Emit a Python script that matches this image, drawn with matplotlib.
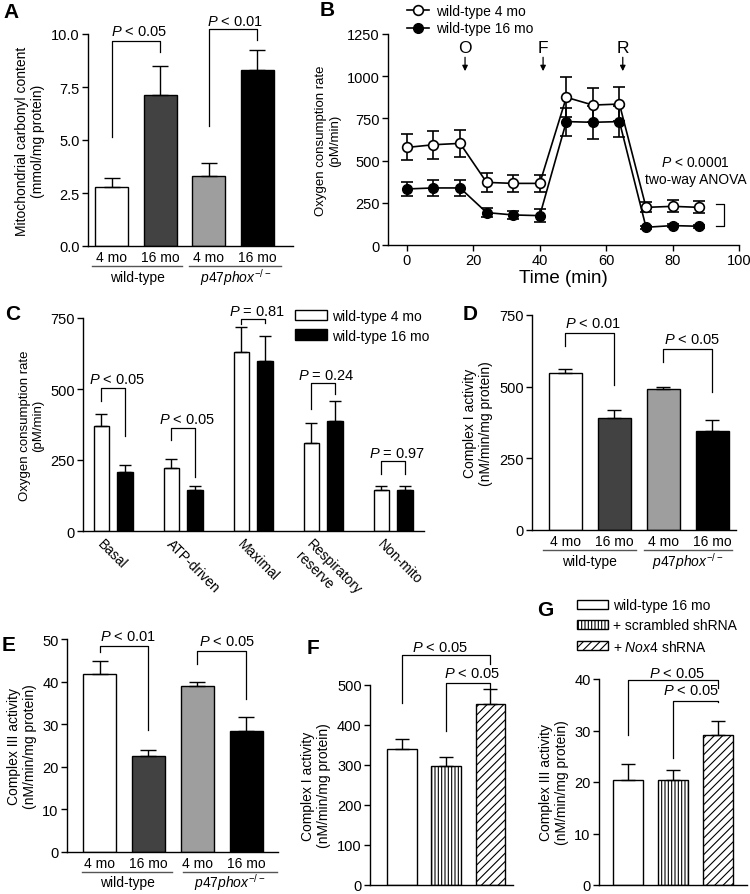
import numpy as np
import matplotlib
matplotlib.use("Agg")
import matplotlib.pyplot as plt
import matplotlib.transforms as mtransforms
from matplotlib.lines import Line2D
from matplotlib.patches import Patch

# ----------------------------
# Data
# ----------------------------

age_labels = ["4 mo", "16 mo", "4 mo", "16 mo"]
genotypes = ["wild-type", r"$\mathit{p47phox}^{-/-}$"]

# A: mitochondrial carbonyl content
carbonyl = [2.8, 7.1, 3.3, 8.3]
carbonyl_err = [0.4, 1.4, 0.6, 0.95]

# B: Seahorse trace
time_min = [0, 8, 16, 24, 32, 40, 48, 56, 64, 72, 80, 88]
ocr_4mo = [578, 594, 602, 371, 365, 365, 875, 829, 835, 223, 229, 223]
ocr_4mo_err = [77, 83, 80, 55, 50, 50, 118, 100, 100, 30, 35, 35]
ocr_16mo = [332, 338, 338, 192, 178, 174, 731, 727, 731, 105, 115, 111]
ocr_16mo_err = [43, 45, 50, 25, 25, 38, 83, 99, 93, 10, 10, 10]
injections = ["O", "F", "R"]
injection_times = [17.5, 41, 65]

# C: OCR parameters
ocr_params = ["Basal", "ATP-driven", "Maximal", "Respiratory\nreserve", "Non-mito"]
param_4mo = [369, 223, 629, 311, 145]
param_4mo_err = [43, 31, 91, 70, 15]
param_16mo = [207, 143, 598, 389, 143]
param_16mo_err = [24, 17, 88, 67, 15]
param_pvals = ["< 0.05", "< 0.05", "= 0.81", "= 0.24", "= 0.97"]

# D: complex I activity
complex1 = [547, 390, 493, 346]
complex1_err = [16, 28, 6, 38]

# E: complex III activity
complex3 = [41.8, 22.6, 38.9, 28.3]
complex3_err = [3.1, 1.3, 1.0, 3.4]

# F / G: shRNA treatment
shrna_labels = ["wild-type 16 mo", "+ scrambled shRNA", r"+ $\mathit{Nox4}$ shRNA"]
shrna_c1 = [339, 298, 452]
shrna_c1_err = [26, 23, 38]
shrna_c3 = [20.4, 20.4, 29.2]
shrna_c3_err = [3.0, 2.0, 2.6]

# ----------------------------
# Style
# ----------------------------

plt.rcParams["font.family"] = ["Liberation Sans", "DejaVu Sans"]
plt.rcParams["font.size"] = 9
plt.rcParams["mathtext.fontset"] = "custom"
plt.rcParams["mathtext.rm"] = "Liberation Sans"
plt.rcParams["mathtext.it"] = "Liberation Sans:italic"
plt.rcParams["mathtext.bf"] = "Liberation Sans:bold"
plt.rcParams["hatch.linewidth"] = 0.8
plt.rcParams["axes.linewidth"] = 1.0

W, H = 750, 895
fig = plt.figure(figsize=(W / 100, H / 100), dpi=100)

bar_colors = ["white", "#424242", "#9e9e9e", "black"]


def make_ax(left, top, right, bottom):
    ax = fig.add_axes([left / W, 1 - bottom / H, (right - left) / W, (bottom - top) / H])
    ax.spines["top"].set_visible(False)
    ax.spines["right"].set_visible(False)
    ax.tick_params(direction="out", length=4, width=1, labelsize=10.5, pad=2)
    return ax


def bracket(ax, x1, x2, y_left, y_top, y_right, text, tx, ty):
    ax.plot([x1, x1, x2, x2], [y_left, y_top, y_top, y_right],
            color="black", lw=0.9, clip_on=False)
    ax.text(tx, ty, r"$P$ " + text, ha="center", va="center", fontsize=10.5)


def group_labels(ax, h_px, spans, text_off=31):
    tr = ax.get_xaxis_transform()
    for (x0, x1), label in zip(spans, genotypes):
        ax.plot([x0, x1], [-20 / h_px, -20 / h_px], color="#555555", lw=1.0,
                transform=tr, clip_on=False)
        ax.text((x0 + x1) / 2, -text_off / h_px, label, transform=tr,
                ha="center", va="center", fontsize=10)


def panel_letter(x, y, s):
    fig.text(x / W, 1 - y / H, s, fontsize=15, fontweight="bold", va="top", ha="left")


def four_bars(ax, vals, errs, width, cap):
    x = np.arange(4)
    ax.bar(x, vals, width=width, color=bar_colors, edgecolor="black", linewidth=1)
    ax.errorbar(x, vals, yerr=[np.zeros(4), errs], fmt="none", ecolor="black",
                elinewidth=1, capsize=cap, capthick=1)
    ax.set_xticks(x, age_labels)
    ax.tick_params(axis="x", length=0, pad=3, labelsize=10)


# ----------------------------
# A
# ----------------------------

axA = make_ax(88, 35, 293, 247)
four_bars(axA, carbonyl, carbonyl_err, 0.68, 6)
axA.set_xlim(-0.485, 3.74)
axA.set_ylim(0, 10)
axA.set_yticks([0, 2.5, 5, 7.5, 10], ["0.0", "2.5", "5.0", "7.5", "10.0"])
axA.set_ylabel("Mitochondrial carbonyl content\n(mmol/mg protein)", fontsize=10)
group_labels(axA, 212, [(-0.4, 1.45), (1.6, 3.5)])
bracket(axA, 0, 1, 5.14, 9.68, 9.17, "< 0.05", 0.57, 10.15)
bracket(axA, 2, 3, 5.66, 10.24, 9.73, "< 0.01", 2.55, 10.62)
panel_letter(3, 3, "A")

# ----------------------------
# B
# ----------------------------

axB = make_ax(388, 35, 739, 246)
axB.errorbar(time_min, ocr_4mo, yerr=ocr_4mo_err, color="black", lw=1.2,
             marker="o", markersize=7, markerfacecolor="white", markeredgewidth=1.2,
             capsize=4, capthick=1.2, elinewidth=1.2, zorder=3)
axB.errorbar(time_min, ocr_16mo, yerr=ocr_16mo_err, color="black", lw=1.2,
             marker="o", markersize=7, markerfacecolor="black",
             capsize=4, capthick=1.2, elinewidth=1.2, zorder=2)
axB.set_xlim(-5.7, 100)
axB.set_ylim(0, 1250)
axB.set_xticks([0, 20, 40, 60, 80, 100])
axB.set_yticks([0, 250, 500, 750, 1000, 1250])
axB.set_xlabel("Time (min)", fontsize=13.5, labelpad=1)
axB.set_ylabel("Oxygen consumption rate\n(pM/min)", fontsize=9.5)
for lab, t in zip(injections, injection_times):
    axB.text(t, 1172, lab, ha="center", va="center", fontsize=12.5)
    axB.annotate("", xy=(t, 1030), xytext=(t, 1112),
                 arrowprops=dict(arrowstyle="-|>", color="black", lw=0.9,
                                 mutation_scale=8, shrinkA=0, shrinkB=0))
axB.text(87, 494, r"$P$ < 0.0001", ha="center", va="center", fontsize=10)
axB.text(87, 391, "two-way ANOVA", ha="center", va="center", fontsize=10)
axB.plot([93.2, 95.6, 95.6, 93.2], [243, 243, 111, 111], color="black", lw=0.9,
         clip_on=False)
legB = [Line2D([], [], color="black", lw=1.2, marker="o", markersize=7,
               markerfacecolor="white", markeredgewidth=1.2),
        Line2D([], [], color="black", lw=1.2, marker="o", markersize=7,
               markerfacecolor="black")]
fig.legend(legB, ["wild-type 4 mo", "wild-type 16 mo"], loc="upper left",
           bbox_to_anchor=(400 / W, 1 + 2 / H), frameon=False, fontsize=10,
           handlelength=1.6, handletextpad=0.5, labelspacing=0.25, borderpad=0)
panel_letter(320, 1, "B")

# ----------------------------
# C
# ----------------------------

axC = make_ax(83, 319, 424, 532)
g = np.arange(len(ocr_params))
axC.bar(g - 0.168, param_4mo, width=0.22, color="white", edgecolor="black", lw=1)
axC.bar(g + 0.168, param_16mo, width=0.22, color="black", edgecolor="black", lw=1)
axC.errorbar(g - 0.168, param_4mo, yerr=[np.zeros(5), param_4mo_err], fmt="none",
             ecolor="black", elinewidth=1, capsize=4.5, capthick=1)
axC.errorbar(g + 0.168, param_16mo, yerr=[np.zeros(5), param_16mo_err], fmt="none",
             ecolor="black", elinewidth=1, capsize=4.5, capthick=1)
axC.set_xlim(-0.432, 4.44)
axC.set_ylim(0, 750)
axC.set_yticks([0, 250, 500, 750])
axC.set_xticks(g, ocr_params, rotation=-45, ha="left", rotation_mode="anchor")
axC.tick_params(axis="x", length=0, pad=4, labelsize=10)
shift = mtransforms.ScaledTranslation(-9 / 100, 0, fig.dpi_scale_trans)
for lab in axC.get_xticklabels():
    lab.set_transform(lab.get_transform() + shift)
axC.set_ylabel("Oxygen consumption rate\n(pM/min)", fontsize=9.5)
c_brackets = [(459, 504, 334, 535), (319, 362, 190, 395), (729, 746, 732, 776),
              (430, 521, 483, 550), (202, 246, 202, 275)]
for i, (yl, yt, yr, ty) in enumerate(c_brackets):
    bracket(axC, i - 0.168, i + 0.168, yl, yt, yr, param_pvals[i], i + 0.05, ty)
axC.legend([Patch(facecolor="white", edgecolor="black", lw=1),
            Patch(facecolor="black", edgecolor="black", lw=1)],
           ["wild-type 4 mo", "wild-type 16 mo"], loc="upper left",
           bbox_to_anchor=((295 - 83) / 341, 1 + 9 / 213),
           frameon=False, fontsize=10, handlelength=2.3, handleheight=0.8,
           handletextpad=0.4, labelspacing=0.4, borderpad=0, borderaxespad=0)
panel_letter(5, 305, "C")

# ----------------------------
# D
# ----------------------------

axD = make_ax(532, 316, 736, 531)
four_bars(axD, complex1, complex1_err, 0.67, 5)
axD.set_xlim(-0.68, 3.48)
axD.set_ylim(0, 750)
axD.set_yticks([0, 250, 500, 750])
axD.set_ylabel("Complex I activity\n(nM/min/mg protein)", fontsize=10)
group_labels(axD, 215, [(-0.45, 1.45), (1.6, 3.4)])
bracket(axD, 0, 1, 642, 688, 505, "< 0.01", 0.56, 723)
bracket(axD, 2, 3, 586, 633, 480, "< 0.05", 2.58, 665)
panel_letter(463, 305, "D")

# ----------------------------
# E
# ----------------------------

axE = make_ax(67, 640, 278, 853)
four_bars(axE, complex3, complex3_err, 0.68, 6)
axE.set_xlim(-0.667, 3.65)
axE.set_ylim(0, 50)
axE.set_yticks([0, 10, 20, 30, 40, 50])
axE.set_ylabel("Complex III activity\n(nM/min/mg protein)", fontsize=10)
group_labels(axE, 213, [(-0.36, 1.49), (1.71, 3.62)], text_off=30)
bracket(axE, 0, 1, 46.9, 48.4, 28.6, "< 0.01", 0.59, 50.8)
bracket(axE, 2, 3, 44.2, 47.1, 36.0, "< 0.05", 2.6, 49.6)
panel_letter(2, 636, "E")

# ----------------------------
# F and G
# ----------------------------

hatches = ["", "|||||", "////"]


def three_bars(ax, vals, errs):
    x = np.arange(3)
    bars = ax.bar(x, vals, width=0.67, color="white", edgecolor="black", lw=1)
    for b, h in zip(bars, hatches):
        b.set_hatch(h)
    ax.errorbar(x, vals, yerr=[np.zeros(3), errs], fmt="none", ecolor="black",
                elinewidth=1, capsize=5, capthick=1)
    ax.set_xticks([])


axF = make_ax(370, 686, 513, 886)
three_bars(axF, shrna_c1, shrna_c1_err)
axF.set_xlim(-0.72, 2.51)
axF.set_ylim(0, 500)
axF.set_yticks([0, 100, 200, 300, 400, 500])
axF.set_ylabel("Complex I activity\n(nM/min/mg protein)", fontsize=10)
bracket(axF, 0, 2, 455, 574, 553, "< 0.05", 0.86, 594)
bracket(axF, 1, 2, 385, 506, 492, "< 0.05", 1.58, 529)
panel_letter(307, 639, "F")

axG = make_ax(599, 680, 747, 886)
three_bars(axG, shrna_c3, shrna_c3_err)
axG.set_xlim(-0.644, 2.64)
axG.set_ylim(0, 40)
axG.set_yticks([0, 10, 20, 30, 40])
axG.set_ylabel("Complex III activity\n(nM/min/mg protein)", fontsize=10)
bracket(axG, 0, 2, 29.2, 39.8, 38.2, "< 0.05", 1.09, 41.1)
bracket(axG, 1, 2, 24.7, 35.8, 35.6, "< 0.05", 1.4, 37.8)
legG = [Patch(facecolor="white", edgecolor="black", hatch=h, lw=1) for h in hatches]
fig.legend(legG, shrna_labels, loc="upper left", bbox_to_anchor=(577 / W, 1 - 599 / H),
           frameon=False, fontsize=10, handlelength=2.2, handleheight=0.6,
           handletextpad=0.4, labelspacing=0.45, borderpad=0, borderaxespad=0)
panel_letter(537, 601, "G")

fig.savefig("out.png", dpi=100)
